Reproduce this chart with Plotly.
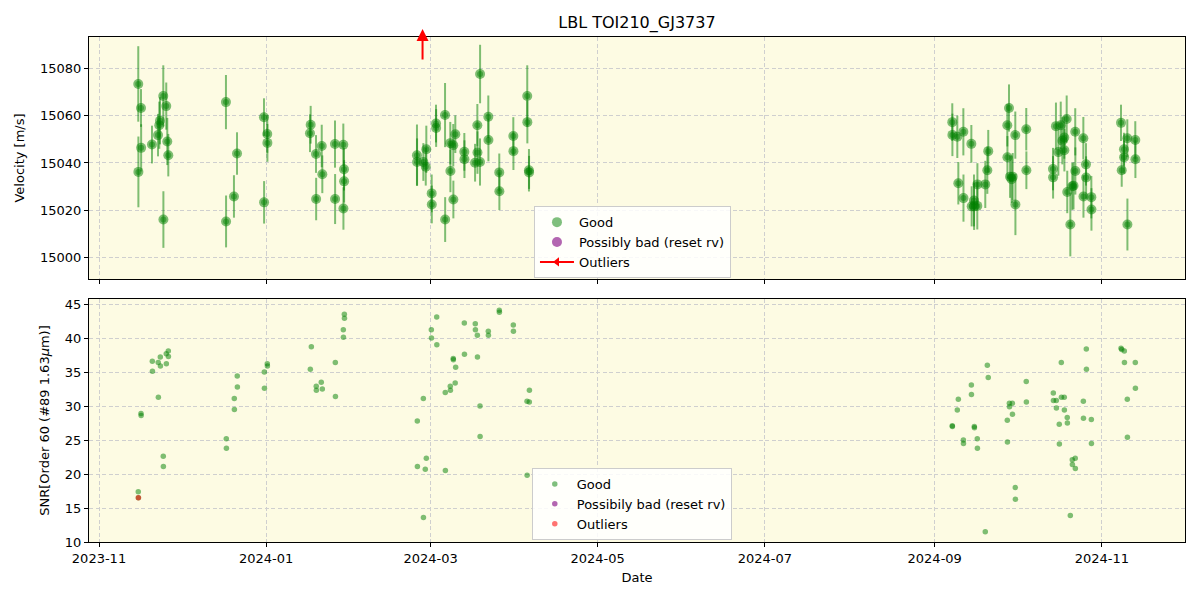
import plotly.graph_objects as go
from plotly.subplots import make_subplots

# ---------------- data ----------------
rv_dates = [
    "2023-11-15 08:00", "2023-11-16 08:00", "2023-11-16 09:00", "2023-11-15 09:00", "2023-11-20 08:00",
    "2023-11-22 13:00", "2023-11-23 00:00", "2023-11-23 06:00", "2023-11-24 11:00", "2023-11-24 12:00",
    "2023-11-25 13:00", "2023-11-25 22:00", "2023-11-26 07:00",
    "2023-12-17 08:00", "2023-12-17 09:00", "2023-12-20 06:00", "2023-12-21 09:00",
    "2023-12-31 05:00", "2023-12-31 06:00", "2024-01-01 10:00", "2024-01-01 11:00",
    "2024-01-17 06:00", "2024-01-17 00:00", "2024-01-19 05:00", "2024-01-19 06:00", "2024-01-21 07:00",
    "2024-01-21 12:00", "2024-01-26 03:00", "2024-01-26 04:00", "2024-01-29 04:00", "2024-01-29 10:00",
    "2024-01-29 11:00", "2024-01-29 05:00",
    "2024-02-25 01:00", "2024-02-25 02:00", "2024-02-27 09:00", "2024-02-28 06:00", "2024-02-28 11:00",
    "2024-03-01 10:00", "2024-03-01 11:00", "2024-03-03 00:00", "2024-03-03 01:00", "2024-03-06 07:00",
    "2024-03-06 08:00", "2024-03-08 05:00", "2024-03-08 06:00", "2024-03-09 07:00", "2024-03-09 08:00",
    "2024-03-10 01:00", "2024-03-13 08:00", "2024-03-13 09:00", "2024-03-17 06:00", "2024-03-18 02:00",
    "2024-03-18 03:00", "2024-03-19 01:00", "2024-03-19 02:00", "2024-03-22 02:00", "2024-03-22 03:00",
    "2024-03-26 02:00", "2024-03-26 03:00", "2024-03-31 05:00", "2024-03-31 06:00", "2024-04-05 07:00",
    "2024-04-05 08:00", "2024-04-05 22:00", "2024-04-05 23:00",
    "2024-09-07 10:00", "2024-09-07 11:00", "2024-09-09 06:00", "2024-09-09 15:00", "2024-09-11 11:00",
    "2024-09-11 12:00", "2024-09-14 09:00", "2024-09-14 12:00", "2024-09-15 08:00", "2024-09-15 09:00",
    "2024-09-16 13:00", "2024-09-16 14:00", "2024-09-19 11:00", "2024-09-20 05:00", "2024-09-20 13:00",
    "2024-09-27 12:00", "2024-09-27 13:00", "2024-09-28 03:00", "2024-09-28 12:00", "2024-09-29 02:00",
    "2024-09-29 11:00", "2024-09-30 10:00", "2024-09-30 11:00", "2024-10-04 10:00", "2024-10-04 11:00",
    "2024-10-14 04:00", "2024-10-14 05:00", "2024-10-15 06:00", "2024-10-16 03:00", "2024-10-17 00:00",
    "2024-10-17 14:00", "2024-10-18 07:00", "2024-10-18 08:00", "2024-10-19 04:00", "2024-10-19 09:00",
    "2024-10-20 12:00", "2024-10-21 05:00", "2024-10-21 16:00", "2024-10-22 07:00", "2024-10-22 08:00",
    "2024-10-25 06:00", "2024-10-25 07:00", "2024-10-26 05:00", "2024-10-26 06:00", "2024-10-28 04:00",
    "2024-10-28 05:00", "2024-11-08 00:00", "2024-11-08 06:00", "2024-11-09 02:00", "2024-11-09 03:00",
    "2024-11-10 07:00", "2024-11-10 08:00", "2024-11-13 05:00", "2024-11-13 06:00",
]
rv_values = [
    15073.5, 15063.3, 15046.4, 15036.2, 15047.8,
    15051.8, 15056.0, 15057.9, 15068.4, 15016.0,
    15064.1, 15049.1, 15043.3,
    15065.8, 15015.2, 15025.8, 15044.0,
    15059.4, 15023.3, 15052.3, 15048.5,
    15056.2, 15052.6, 15043.8, 15024.7, 15047.2,
    15035.2, 15048.0, 15024.7, 15047.7, 15037.3,
    15032.2, 15020.7,
    15043.3, 15040.4, 15040.4, 15038.4, 15045.8,
    15027.1, 15022.4, 15056.7, 15054.8, 15060.3,
    15016.0, 15048.4, 15036.6, 15047.5, 15024.5,
    15052.2, 15044.7, 15041.6, 15040.1, 15056.0,
    15044.4, 15040.4, 15077.7, 15059.6, 15049.7,
    15036.0, 15028.0, 15051.4, 15045.0, 15068.4,
    15057.3, 15036.9, 15036.0,
    15057.3, 15051.9, 15051.1, 15031.4, 15053.2,
    15025.1, 15048.1, 15021.6, 15024.1, 15021.6,
    15021.8, 15030.9, 15030.9, 15036.9, 15045.0,
    15056.0, 15042.4, 15063.3, 15034.2, 15033.1,
    15034.2, 15051.8, 15022.4, 15054.3, 15036.9,
    15037.4, 15033.9, 15055.6, 15044.6, 15056.0,
    15049.4, 15050.8, 15045.4, 15058.6, 15027.7,
    15013.9, 15030.1, 15030.3, 15053.2, 15036.6,
    15050.5, 15025.8, 15039.4, 15033.8, 15025.5,
    15020.3, 15057.0, 15036.9, 15045.8, 15042.4,
    15050.5, 15013.9, 15049.7, 15041.6,
]
rv_errors = [
    16, 8, 10, 15, 8,
    9, 10, 10, 13, 12,
    10, 10, 9,
    11.5, 11, 9, 9,
    8, 9, 8, 8,
    8, 8, 8, 9, 9,
    8, 10, 10.6, 9, 9,
    9, 9,
    13, 10, 8, 8, 10,
    8, 8, 8, 8, 13.6,
    9.5, 9, 9, 9, 8,
    8, 8, 8, 8, 9,
    9, 10, 12.4, 9, 9,
    8, 8, 8, 8, 13,
    9, 9, 7,
    8, 9, 9, 9, 10,
    10, 8, 8.5, 11, 10,
    10, 9, 10, 10, 9,
    9, 9, 10, 9, 10,
    10, 10, 13, 9, 8,
    9, 9, 10, 10, 10,
    10, 9, 9, 10, 9,
    13.5, 10, 10, 10, 10,
    9, 9, 9, 9, 9,
    9, 7.7, 7, 7, 7,
    8, 11, 8, 8,
]

snr_dates = [
    "2023-11-15 08:00", "2023-11-15 09:00", "2023-11-16 08:00", "2023-11-16 09:00", "2023-11-20 11:00",
    "2023-11-20 12:00",
    "2023-11-22 15:00", "2023-11-22 16:00", "2023-11-23 09:00", "2023-11-23 10:00", "2023-11-24 11:00",
    "2023-11-24 12:00", "2023-11-25 13:00", "2023-11-25 14:00", "2023-11-26 07:00", "2023-11-26 08:00",
    "2023-12-17 11:00", "2023-12-17 12:00", "2023-12-20 09:00", "2023-12-20 10:00", "2023-12-21 11:00",
    "2023-12-21 12:00", "2023-12-31 08:00", "2023-12-31 09:00", "2024-01-01 10:00", "2024-01-01 11:00",
    "2024-01-17 03:00", "2024-01-17 12:00", "2024-01-19 07:00", "2024-01-19 08:00", "2024-01-21 03:00",
    "2024-01-21 12:00", "2024-01-26 06:00", "2024-01-26 07:00", "2024-01-29 04:00", "2024-01-29 05:00",
    "2024-01-29 13:00", "2024-01-29 14:00",
    "2024-02-25 04:00", "2024-02-25 05:00", "2024-02-27 09:00", "2024-02-27 10:00", "2024-02-28 02:00",
    "2024-02-28 11:00", "2024-03-01 07:00", "2024-03-01 08:00", "2024-03-03 06:00", "2024-03-03 07:00",
    "2024-03-06 09:00", "2024-03-06 10:00", "2024-03-08 05:00", "2024-03-08 06:00", "2024-03-09 07:00",
    "2024-03-09 08:00", "2024-03-10 04:00", "2024-03-10 00:00", "2024-03-13 08:00", "2024-03-13 09:00",
    "2024-03-17 08:00", "2024-03-17 09:00", "2024-03-18 02:00", "2024-03-18 03:00", "2024-03-19 01:00",
    "2024-03-19 02:00", "2024-03-22 02:00", "2024-03-22 03:00", "2024-03-26 02:00", "2024-03-26 03:00",
    "2024-03-31 05:00", "2024-03-31 06:00", "2024-04-05 05:00", "2024-04-05 06:00", "2024-04-06 01:00",
    "2024-04-06 02:00",
    "2024-09-07 10:00", "2024-09-07 11:00", "2024-09-09 06:00", "2024-09-09 15:00", "2024-09-11 11:00",
    "2024-09-11 12:00", "2024-09-14 09:00", "2024-09-14 10:00", "2024-09-15 11:00", "2024-09-15 12:00",
    "2024-09-16 13:00", "2024-09-16 14:00", "2024-09-19 11:00", "2024-09-20 05:00", "2024-09-20 13:00",
    "2024-09-27 12:00", "2024-09-27 13:00", "2024-09-28 06:00", "2024-09-28 07:00", "2024-09-29 08:00",
    "2024-09-29 09:00", "2024-09-30 10:00", "2024-09-30 11:00", "2024-10-04 10:00", "2024-10-04 11:00",
    "2024-10-14 07:00", "2024-10-14 08:00", "2024-10-15 09:00", "2024-10-15 10:00", "2024-10-16 11:00",
    "2024-10-16 12:00", "2024-10-17 05:00", "2024-10-17 06:00", "2024-10-18 07:00", "2024-10-18 08:00",
    "2024-10-19 09:00", "2024-10-19 10:00", "2024-10-20 12:00", "2024-10-21 05:00", "2024-10-21 06:00",
    "2024-10-22 07:00", "2024-10-22 08:00", "2024-10-25 06:00", "2024-10-25 07:00", "2024-10-26 08:00",
    "2024-10-26 09:00", "2024-10-28 04:00", "2024-10-28 05:00", "2024-11-08 00:00", "2024-11-08 06:00",
    "2024-11-09 05:00", "2024-11-09 06:00", "2024-11-10 07:00", "2024-11-10 08:00", "2024-11-13 05:00",
    "2024-11-13 06:00",
]
snr_values = [
    17.4, 16.5, 28.9, 28.6, 36.6,
    35.1,
    36.4, 31.3, 37.2, 35.9, 22.6,
    21.1, 37.7, 36.2, 38.1, 37.3,
    25.2, 23.8, 31.1, 29.5, 34.4,
    32.8, 35.0, 32.6, 36.2, 35.9,
    35.4, 38.7, 32.9, 32.3, 33.5,
    32.5, 36.4, 31.4, 41.2, 40.1,
    43.5, 42.9,
    27.8, 21.1, 31.1, 13.6, 20.7,
    22.3, 41.2, 40.0, 43.1, 39.0,
    32.0, 20.5, 32.9, 32.3, 37.0,
    36.8, 35.7, 33.4, 42.2, 37.6,
    42.1, 41.2, 40.4, 37.2, 30.0,
    25.5, 41.0, 40.4, 44.1, 43.8,
    41.9, 41.0, 30.7, 19.8, 30.6,
    32.3,
    27.1, 27.0, 29.4, 31.0, 25.0,
    24.5, 33.1, 31.7, 27.0, 26.8,
    25.2, 23.8, 11.5, 36.0, 34.2,
    27.9, 24.7, 30.4, 29.9, 30.4,
    28.8, 18.0, 16.3, 33.6, 30.6,
    31.9, 30.8, 30.8, 29.7, 27.3,
    24.4, 36.4, 31.3, 31.3, 29.4,
    28.3, 27.5, 13.9, 22.1, 21.4,
    22.3, 20.8, 30.7, 28.2, 38.4,
    35.4, 28.0, 24.5, 38.5, 38.3,
    38.1, 36.4, 31.0, 25.4, 36.4,
    32.6,
]

outlier_snr_dates = ["2023-11-15 09:00"]
outlier_snr_values = [16.5]
outlier_rv_date = "2024-02-27 02:00"

x_tick_vals = ["2023-11-01", "2024-01-01", "2024-03-01", "2024-05-01", "2024-07-01", "2024-09-01", "2024-11-01"]
x_tick_text = ["2023-11", "2024-01", "2024-03", "2024-05", "2024-07", "2024-09", "2024-11"]
rv_ticks = [15000, 15020, 15040, 15060, 15080]
snr_ticks = [10, 15, 20, 25, 30, 35, 40, 45]

# ---------------- figure ----------------
GREEN = "rgba(0,128,0,0.5)"
GREEN_IN = "rgba(0,128,0,0.45)"
PURPLE = "rgba(128,0,128,0.6)"
RED_A = "rgba(255,0,0,0.55)"
BG = "rgb(253,251,227)"
FONT = "DejaVu Sans"

fig = make_subplots(rows=2, cols=1, shared_xaxes=True)

fig.add_trace(go.Scatter(
    x=rv_dates, y=rv_values, mode="markers", name="Good",
    marker=dict(color=GREEN, size=10, line=dict(width=0)),
    error_y=dict(type="data", array=rv_errors, visible=True, color=GREEN, thickness=2, width=0),
    legend="legend",
), row=1, col=1)
fig.add_trace(go.Scatter(
    x=rv_dates, y=rv_values, mode="markers", name="Good", showlegend=False, hoverinfo="skip",
    marker=dict(color=GREEN_IN, size=6, line=dict(width=0)),
), row=1, col=1)
fig.add_trace(go.Scatter(
    x=[None], y=[None], mode="markers", name="Possibly bad (reset rv)",
    marker=dict(color=PURPLE, size=10), legend="legend",
), row=1, col=1)
fig.add_trace(go.Scatter(
    x=[None], y=[None], mode="lines+markers", name="Outliers",
    line=dict(color="red", width=2),
    marker=dict(color="red", size=8, symbol="triangle-left"), legend="legend",
), row=1, col=1)

fig.add_trace(go.Scatter(
    x=snr_dates, y=snr_values, mode="markers", name="Good",
    marker=dict(color=GREEN, size=5.5, line=dict(width=0)), legend="legend2",
), row=2, col=1)
fig.add_trace(go.Scatter(
    x=[None], y=[None], mode="markers", name="Possibily bad (reset rv)",
    marker=dict(color=PURPLE, size=5.5), legend="legend2",
), row=2, col=1)
fig.add_trace(go.Scatter(
    x=outlier_snr_dates, y=outlier_snr_values, mode="markers", name="Outliers",
    marker=dict(color=RED_A, size=5.5, line=dict(width=0)), legend="legend2",
), row=2, col=1)

fig.add_annotation(
    x=outlier_rv_date, y=1.0158, xref="x", yref="paper", text="",
    showarrow=True, ax=0, ay=32, axref="pixel", ayref="pixel",
    arrowcolor="red", arrowwidth=2, arrowhead=2, arrowsize=1.2,
)

axis_common = dict(
    showline=True, linecolor="black", linewidth=1, mirror=True,
    ticks="outside", ticklen=4, tickcolor="black",
    showgrid=True, gridcolor="#cfcfcf", griddash="4px,2.5px", gridwidth=1,
    zeroline=False, tickfont=dict(family=FONT, size=13, color="black"),
)

x_range = ["2023-10-28 08:24", "2024-12-01 08:24"]
fig.update_xaxes(**axis_common, range=x_range, tickvals=x_tick_vals, ticktext=x_tick_text)
fig.update_xaxes(showticklabels=False, row=1, col=1)
fig.update_xaxes(title=dict(text="Date", font=dict(family=FONT, size=13, color="black"), standoff=8), row=2, col=1)

fig.update_yaxes(**axis_common)
fig.update_yaxes(range=[14990.8, 15093.4], tickvals=rv_ticks, tickformat="d", domain=[0.5208, 1.0],
                 title=dict(text="Velocity [m/s]", font=dict(family=FONT, size=13, color="black"), standoff=12),
                 row=1, col=1)
fig.update_yaxes(range=[10.0, 45.74], tickvals=snr_ticks, domain=[0.0, 0.4812],
                 title=dict(text="SNR[Order 60 (#89 1.63<i>μ</i>m)]", font=dict(family=FONT, size=13, color="black"), standoff=12),
                 row=2, col=1)

legend_common = dict(
    bgcolor="rgba(255,255,255,0.85)", bordercolor="#cccccc", borderwidth=1,
    font=dict(family=FONT, size=13, color="black"),
    xanchor="left", yanchor="top", itemwidth=34,
)

fig.update_layout(
    width=1200, height=600,
    margin=dict(l=89, r=15, t=37, b=58),
    paper_bgcolor="white", plot_bgcolor=BG,
    title=dict(text="LBL TOI210_GJ3737", x=0.5308, xanchor="center", y=0.963, yanchor="middle",
               font=dict(family=FONT, size=16, color="black")),
    legend=dict(**legend_common, x=0.406, y=0.665),
    legend2=dict(**legend_common, x=0.404, y=0.1465),
    showlegend=True,
)

fig.write_html("out.html")
